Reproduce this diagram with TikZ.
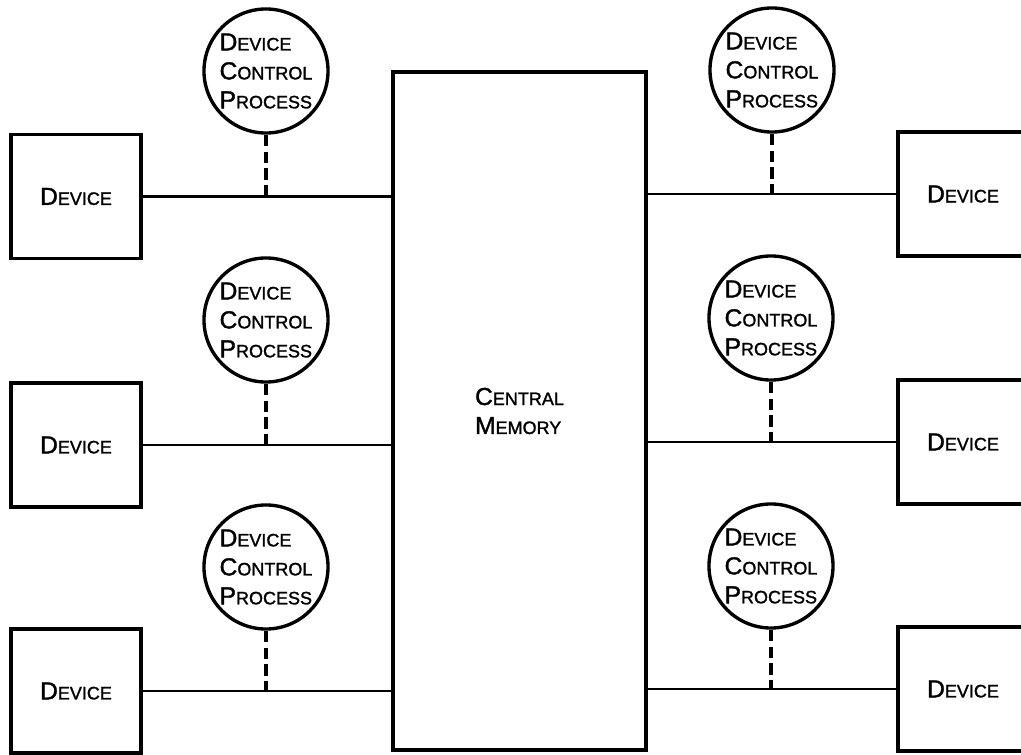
\documentclass[tikz,border=0pt]{standalone}
\usepackage{fontspec}
\setmainfont{Liberation Sans}[FakeBold=1.4]
\usepackage{tikz}
\usetikzlibrary{positioning}
\newcommand{\lowcap}[1]{{\fontsize{12.8}{14}\selectfont #1}}

\begin{document}
\begin{tikzpicture}[x=0.025cm,y=-0.025cm,
  font=\fontsize{17.5}{20.6}\selectfont,
  devbox/.style={draw,line width=2.6pt,minimum width=3.25cm,minimum height=3.1cm,inner sep=0pt},
  ctrlproc/.style={draw,circle,line width=2.4pt,minimum size=3.1cm,inner sep=0pt,align=left},
  membox/.style={draw,line width=2.8pt,minimum width=6.325cm,minimum height=16.95cm,inner sep=0pt,align=left},
  link/.style={line width=1.7pt},
  ctrl/.style={line width=2.2pt,dash pattern=on 8pt off 4pt}]
\useasboundingbox (0,0) rectangle (1021,755);
\clip (0,0) rectangle (1021,755);
% Central memory
\node[membox] (mem) at (519.5,411) {C\lowcap{ENTRAL}\\M\lowcap{EMORY}};
% Devices, left
\node[devbox] (devL1) at (76,196.5) {D\lowcap{EVICE}};
\node[devbox] (devL2) at (76,445) {D\lowcap{EVICE}};
\node[devbox] (devL3) at (76,691) {D\lowcap{EVICE}};
% Devices, right
\node[devbox] (devR1) at (963,194) {D\lowcap{EVICE}};
\node[devbox] (devR2) at (963,442) {D\lowcap{EVICE}};
\node[devbox] (devR3) at (963,689) {D\lowcap{EVICE}};
% Device control processes
\node[ctrlproc] (dcpL1) at (266,71) {D\lowcap{EVICE}\\C\lowcap{ONTROL}\\P\lowcap{ROCESS}};
\node[ctrlproc] (dcpL2) at (266,320) {D\lowcap{EVICE}\\C\lowcap{ONTROL}\\P\lowcap{ROCESS}};
\node[ctrlproc] (dcpL3) at (266,567) {D\lowcap{EVICE}\\C\lowcap{ONTROL}\\P\lowcap{ROCESS}};
\node[ctrlproc] (dcpR1) at (772,70) {D\lowcap{EVICE}\\C\lowcap{ONTROL}\\P\lowcap{ROCESS}};
\node[ctrlproc] (dcpR2) at (771,318) {D\lowcap{EVICE}\\C\lowcap{ONTROL}\\P\lowcap{ROCESS}};
\node[ctrlproc] (dcpR3) at (771,566) {D\lowcap{EVICE}\\C\lowcap{ONTROL}\\P\lowcap{ROCESS}};
% Lines to memory
\draw[link] (devL1) -- (devL1 -| mem.west);
\draw[link] (devL2) -- (devL2 -| mem.west);
\draw[link] (devL3) -- (devL3 -| mem.west);
\draw[link] (devR1) -- (devR1 -| mem.east);
\draw[link] (devR2) -- (devR2 -| mem.east);
\draw[link] (devR3) -- (devR3 -| mem.east);
% Control taps
\draw[ctrl] (dcpL1) -- (dcpL1 |- devL1);
\draw[ctrl] (dcpL2) -- (dcpL2 |- devL2);
\draw[ctrl] (dcpL3) -- (dcpL3 |- devL3);
\draw[ctrl] (dcpR1) -- (dcpR1 |- devR1);
\draw[ctrl] (dcpR2) -- (dcpR2 |- devR2);
\draw[ctrl] (dcpR3) -- (dcpR3 |- devR3);
\end{tikzpicture}
\end{document}
